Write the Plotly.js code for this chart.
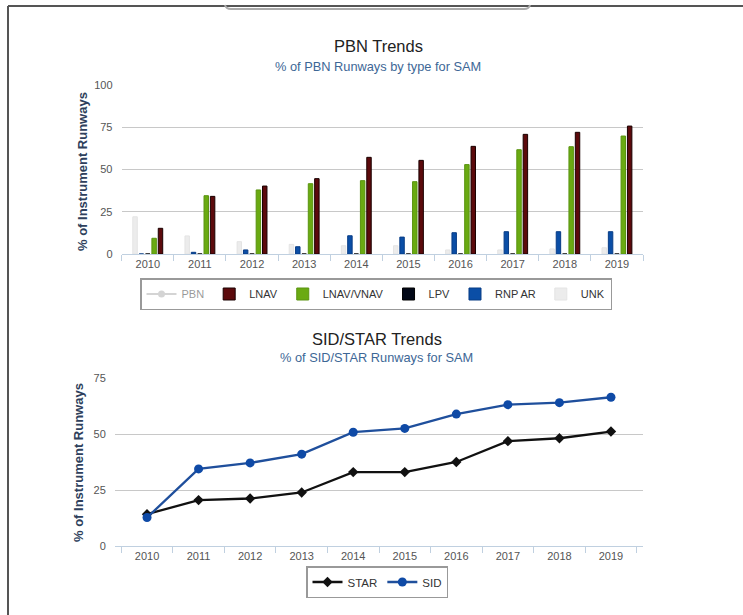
<!DOCTYPE html>
<html>
<head>
<meta charset="utf-8">
<script src="https://cdn.plot.ly/plotly-3.0.1.min.js"></script>
<style>html,body{margin:0;padding:0;background:#fff;}#chart{width:743px;height:615px;}</style>
</head>
<body>
<div id="chart"></div>
<script>
// ---- data ----
var years = ["2010","2011","2012","2013","2014","2015","2016","2017","2018","2019"];
var unk      = [22, 10.7, 7.3, 5.7, 4.9, 4.9, 2.4, 2.4, 3.0, 3.7];
var rnpAr    = [0, 1.0, 2.4, 4.3, 10.8, 10.0, 12.6, 13.2, 13.2, 13.2];
var lpv      = [0, 0, 0, 0, 0, 0, 0, 0, 0, 0];
var lnavVnav = [9.3, 34.5, 37.9, 41.6, 43.4, 42.8, 52.9, 61.7, 63.5, 69.8];
var lnav     = [15.2, 34.1, 40.2, 44.6, 57.2, 55.4, 63.7, 70.8, 72.0, 75.7];
var pbn      = [null, null, null, null, null, null, null, null, null, null];
var star     = [14.2, 20.5, 21.2, 23.9, 33.0, 33.0, 37.5, 46.8, 48.1, 51.1];
var sid      = [12.7, 34.4, 37.1, 41.0, 50.8, 52.5, 58.9, 63.1, 64.0, 66.4];
var barTicks  = [0, 25, 50, 75, 100];
var lineTicks = [0, 25, 50, 75];

var W = 743, H = 615;
function px(x){ return x / W; }
function py(y){ return (H - y) / H; }

var FONT = "Liberation Sans, Arial, sans-serif";

function bar(name, vals, color, lineColor){
  return {type:"bar", name:name, x:years, y:vals, xaxis:"x", yaxis:"y", legend:"legend",
    marker:{color:color, line:{color:lineColor, width:1}}, hoverinfo:"skip"};
}

var data = [
  bar("UNK", unk, "#ececec", "#e4e4e4"),
  bar("RNP AR", rnpAr, "#0b4ea6", "#083c85"),
  bar("LPV", lpv, "#020817", "#000000"),
  bar("LNAV/VNAV", lnavVnav, "#6aaa12", "#5a9410"),
  bar("LNAV", lnav, "#5c0a0c", "#1a0000"),
  {type:"scatter", mode:"lines+markers", name:"PBN", x:years, y:pbn, xaxis:"x", yaxis:"y",
    legend:"legend", visible:"legendonly", line:{color:"#aaaaaa", width:2},
    marker:{color:"#aaaaaa", size:7, symbol:"circle"}},
  {type:"scatter", mode:"lines+markers", name:"STAR", x:years, y:star, xaxis:"x2", yaxis:"y2",
    legend:"legend2", line:{color:"#111111", width:2.3},
    marker:{color:"#111111", size:8, symbol:"diamond"}, hoverinfo:"skip"},
  {type:"scatter", mode:"lines+markers", name:"SID", x:years, y:sid, xaxis:"x2", yaxis:"y2",
    legend:"legend2", line:{color:"#1f4f9c", width:2.3},
    marker:{color:"#0f4aa6", size:9, symbol:"circle"}, hoverinfo:"skip"}
];

var xCommon = {type:"category", tickson:"boundaries", ticks:"outside", ticklen:6, tickcolor:"#c0d0e0",
  showline:true, linecolor:"#c0d0e0", linewidth:1, showgrid:false, zeroline:false, fixedrange:true,
  tickfont:{family:FONT, size:11, color:"#555"}};
var yCommon = {showgrid:true, gridcolor:"#c8c8c8", gridwidth:1, zeroline:false, showline:false,
  ticks:"outside", ticklen:6, tickcolor:"rgba(0,0,0,0)", fixedrange:true,
  tickfont:{family:FONT, size:11, color:"#555"}};

function ann(text, x, y, size, color, angle){
  var a = {text:text, xref:"paper", yref:"paper", x:px(x), y:py(y), xanchor:"center", yanchor:"middle",
    showarrow:false, font:{family:FONT, size:size, color:color}};
  if (angle) a.textangle = angle;
  return a;
}

var layout = {
  width:W, height:H, margin:{l:0, r:0, t:0, b:0},
  paper_bgcolor:"#fff", plot_bgcolor:"#fff",
  font:{family:FONT, color:"#333"},
  barmode:"group", bargap:0.39, bargroupgap:0.3,
  xaxis: Object.assign({}, xCommon, {domain:[px(121.7), px(643)], anchor:"y"}),
  yaxis: Object.assign({}, yCommon, {domain:[py(254), py(85)], range:[0,100], tickvals:barTicks, anchor:"x"}),
  xaxis2: Object.assign({}, xCommon, {domain:[px(115), px(643)], anchor:"y2"}),
  yaxis2: Object.assign({}, yCommon, {domain:[py(546), py(378)], range:[0,75], tickvals:lineTicks, anchor:"x2"}),
  legend:{orientation:"h", x:px(376), y:py(278), xanchor:"center", yanchor:"top",
    traceorder:"reversed", bordercolor:"#999", borderwidth:1.5, bgcolor:"#fff",
    font:{family:FONT, size:11, color:"#333"}, itemwidth:30, itemclick:false, itemdoubleclick:false},
  legend2:{orientation:"h", x:px(377), y:py(566), xanchor:"center", yanchor:"top",
    bordercolor:"#999", borderwidth:1.5, bgcolor:"#fff",
    font:{family:FONT, size:11.5, color:"#333"}, itemwidth:30, itemclick:false, itemdoubleclick:false},
  annotations:[
    ann("PBN Trends", 378, 46, 16.5, "#222"),
    ann("% of PBN Runways by type for SAM", 378, 67, 12.8, "#3d6796"),
    ann("SID/STAR Trends", 377, 339, 16.5, "#222"),
    ann("% of SID/STAR Runways for SAM", 377, 357, 12.8, "#3d6796"),
    ann("<b>% of Instrument Runways</b>", 82, 172, 13, "#2e3f5c", -90),
    ann("<b>% of Instrument Runways</b>", 78, 463, 13, "#2e3f5c", -90)
  ],
  shapes:[
    {type:"line", xref:"paper", yref:"paper", x0:px(8), x1:1, y0:py(6), y1:py(6), line:{color:"#555", width:2}},
    {type:"line", xref:"paper", yref:"paper", x0:px(8), x1:px(8), y0:py(6), y1:0, line:{color:"#555", width:2}},
    {type:"path", xref:"paper", yref:"paper",
      path:"M "+px(225)+" "+py(5)+" Q "+px(226)+" "+py(9)+" "+px(231)+" "+py(9)+
           " L "+px(524)+" "+py(9)+" Q "+px(529)+" "+py(9)+" "+px(530)+" "+py(5),
      line:{color:"#aaa", width:2}}
  ],
  showlegend:true
};

Plotly.newPlot("chart", data, layout, {staticPlot:true, displayModeBar:false});
</script>
</body>
</html>
